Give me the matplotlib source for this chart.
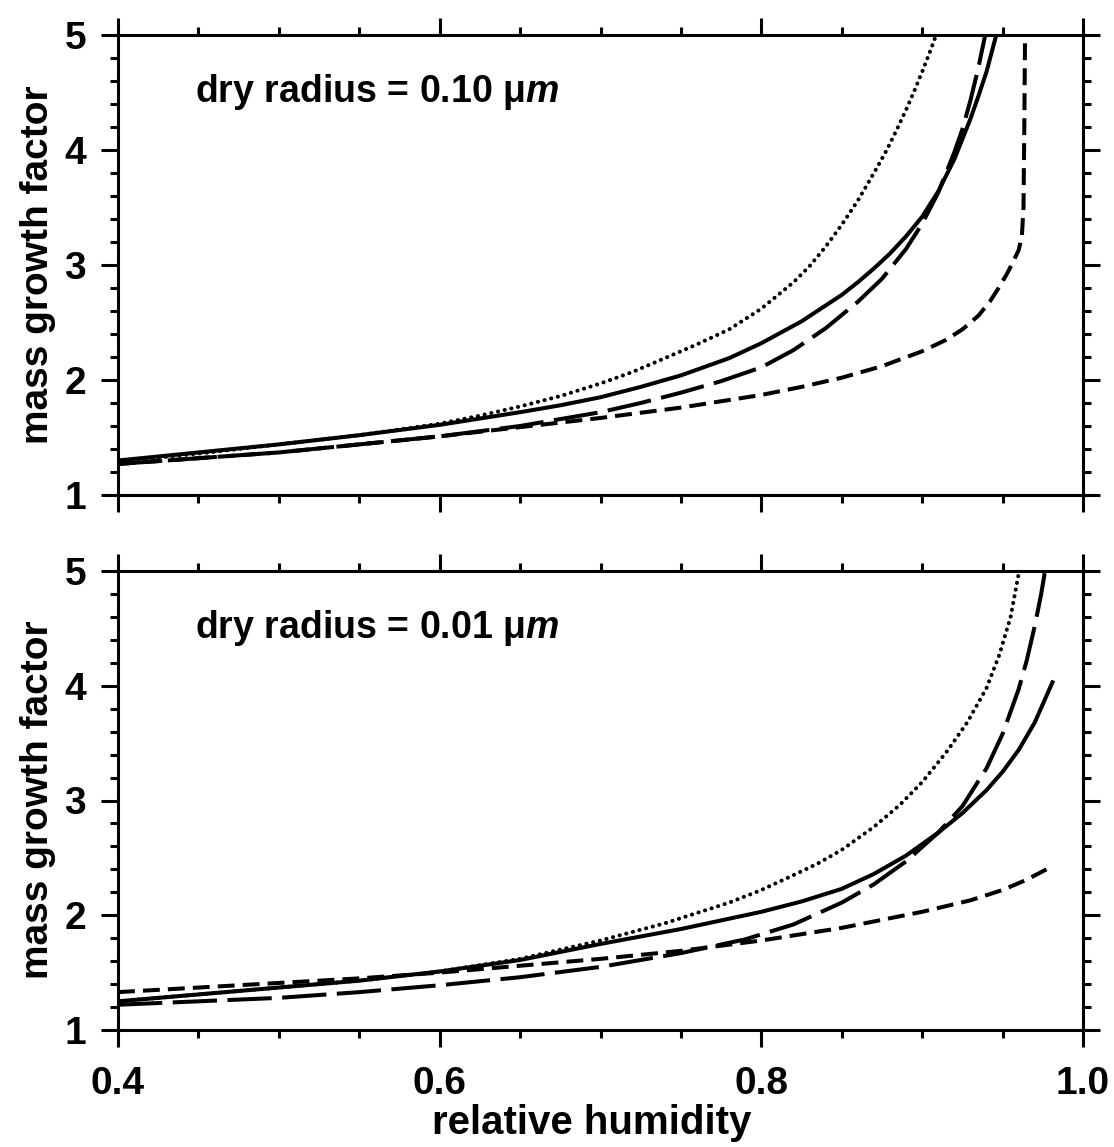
import matplotlib
matplotlib.use("Agg")
import matplotlib.pyplot as plt
from matplotlib.ticker import MultipleLocator, FixedLocator

plt.rcParams['font.family'] = ['Liberation Sans', 'DejaVu Sans']
plt.rcParams['font.weight'] = 'bold'
plt.rcParams['mathtext.fontset'] = 'custom'
plt.rcParams['mathtext.rm'] = 'Liberation Sans:bold'
plt.rcParams['mathtext.it'] = 'Liberation Sans:italic:bold'
plt.rcParams['mathtext.bf'] = 'Liberation Sans:bold'

# ---------------- data ----------------
# top panel: dry radius = 0.10 um
top_solid_rh = [0.40, 0.45, 0.50, 0.55, 0.60, 0.65, 0.675, 0.70, 0.725, 0.75, 0.78, 0.80, 0.825, 0.85, 0.86, 0.87, 0.88, 0.89, 0.90, 0.91, 0.92, 0.93, 0.935, 0.94, 0.947]
top_solid_g = [1.30, 1.37, 1.44, 1.52, 1.61, 1.72, 1.78, 1.85, 1.94, 2.04, 2.19, 2.32, 2.51, 2.74, 2.85, 2.97, 3.10, 3.25, 3.42, 3.64, 3.92, 4.27, 4.47, 4.68, 5.05]

top_dotted_rh = [0.40, 0.45, 0.50, 0.55, 0.60, 0.625, 0.65, 0.675, 0.70, 0.72, 0.74, 0.76, 0.78, 0.80, 0.82, 0.83, 0.84, 0.85, 0.86, 0.87, 0.878, 0.885, 0.89, 0.895, 0.90, 0.905, 0.91]
top_dotted_g = [1.29, 1.36, 1.44, 1.52, 1.62, 1.69, 1.77, 1.86, 1.97, 2.07, 2.19, 2.31, 2.44, 2.62, 2.85, 2.99, 3.16, 3.35, 3.56, 3.80, 4.00, 4.20, 4.35, 4.51, 4.68, 4.86, 5.05]

top_longdash_rh = [0.40, 0.45, 0.50, 0.55, 0.60, 0.65, 0.70, 0.725, 0.75, 0.775, 0.80, 0.82, 0.84, 0.86, 0.875, 0.89, 0.90, 0.91, 0.92, 0.925, 0.93, 0.935, 0.938, 0.940]
top_longdash_g = [1.27, 1.32, 1.37, 1.44, 1.51, 1.60, 1.72, 1.80, 1.89, 1.99, 2.11, 2.26, 2.45, 2.68, 2.88, 3.14, 3.36, 3.63, 3.98, 4.18, 4.43, 4.72, 4.92, 5.05]

top_shortdash_rh = [0.40, 0.45, 0.50, 0.55, 0.60, 0.65, 0.70, 0.75, 0.80, 0.825, 0.85, 0.875, 0.90, 0.915, 0.925, 0.935, 0.942, 0.948, 0.953, 0.957, 0.960, 0.962, 0.963, 0.9635, 0.964]
top_shortdash_g = [1.27, 1.32, 1.37, 1.44, 1.51, 1.59, 1.67, 1.76, 1.87, 1.94, 2.02, 2.12, 2.25, 2.35, 2.44, 2.56, 2.68, 2.81, 2.93, 3.04, 3.13, 3.25, 3.50, 4.20, 5.05]

# bottom panel: dry radius = 0.01 um
bot_solid_rh = [0.40, 0.45, 0.50, 0.55, 0.60, 0.65, 0.70, 0.75, 0.80, 0.825, 0.85, 0.87, 0.89, 0.91, 0.925, 0.94, 0.95, 0.96, 0.97, 0.981]
bot_solid_g = [1.25, 1.31, 1.37, 1.43, 1.51, 1.61, 1.75, 1.88, 2.03, 2.12, 2.23, 2.36, 2.52, 2.72, 2.89, 3.09, 3.25, 3.44, 3.68, 4.03]

bot_dotted_rh = [0.40, 0.45, 0.50, 0.55, 0.60, 0.65, 0.70, 0.74, 0.78, 0.80, 0.82, 0.835, 0.85, 0.87, 0.886, 0.90, 0.915, 0.928, 0.94, 0.948, 0.955, 0.961]
bot_dotted_g = [1.25, 1.31, 1.37, 1.43, 1.51, 1.62, 1.78, 1.93, 2.11, 2.22, 2.35, 2.45, 2.57, 2.77, 2.96, 3.16, 3.42, 3.68, 3.98, 4.27, 4.60, 5.05]

bot_longdash_rh = [0.40, 0.45, 0.50, 0.55, 0.60, 0.65, 0.70, 0.75, 0.79, 0.82, 0.85, 0.87, 0.89, 0.91, 0.925, 0.94, 0.95, 0.96, 0.965, 0.970, 0.974, 0.977]
bot_longdash_g = [1.22, 1.25, 1.28, 1.33, 1.39, 1.46, 1.55, 1.67, 1.79, 1.92, 2.11, 2.27, 2.47, 2.72, 2.95, 3.28, 3.58, 3.97, 4.22, 4.52, 4.80, 5.05]

bot_shortdash_rh = [0.40, 0.45, 0.50, 0.55, 0.60, 0.65, 0.70, 0.75, 0.80, 0.85, 0.90, 0.93, 0.95, 0.965, 0.98]
bot_shortdash_g = [1.33, 1.37, 1.41, 1.45, 1.50, 1.56, 1.62, 1.69, 1.78, 1.89, 2.03, 2.13, 2.22, 2.31, 2.42]

panel_labels = ["dry radius = 0.10 \u03bc$m$", "dry radius = 0.01 \u03bc$m$"]
x_ticks = [0.4, 0.6, 0.8, 1.0]
x_ticklabels = ["0.4", "0.6", "0.8", "1.0"]
y_ticks = [1, 2, 3, 4, 5]
x_label = "relative humidity"
y_label = "mass growth factor"

# ---------------- figure ----------------
W, H = 1114, 1147
fig = plt.figure(figsize=(W / 100, H / 100), dpi=100)

left = 118 / W
width = (1083 - 118) / W
ax_top = fig.add_axes([left, 1 - 495 / H, width, (495 - 35) / H])
ax_bot = fig.add_axes([left, 1 - 1030 / H, width, (1030 - 571) / H])

LW = 2.9
styles = {
    'solid': dict(linestyle='-', linewidth=LW),
    'dotted': dict(linestyle=(0, (0.05, 1.65)), linewidth=2.9, dash_capstyle='round'),
    'longdash': dict(linestyle=(0, (11, 2.6)), linewidth=LW),
    'shortdash': dict(linestyle=(0, (4.2, 2.0)), linewidth=LW),
}

def draw(ax, series, label):
    for (rh, g, key) in series:
        ax.plot(rh, g, color='black', solid_joinstyle='round', **styles[key])
    ax.set_xlim(0.4, 1.0)
    ax.set_ylim(1, 5)
    ax.xaxis.set_major_locator(FixedLocator(x_ticks))
    ax.xaxis.set_minor_locator(MultipleLocator(0.05))
    ax.yaxis.set_major_locator(FixedLocator(y_ticks))
    ax.yaxis.set_minor_locator(MultipleLocator(0.2))
    ax.tick_params(which='both', direction='out', top=True, right=True,
                   labeltop=False, labelright=False, width=2.2, color='black')
    ax.tick_params(which='major', length=12, labelsize=28, pad=11)
    ax.tick_params(which='minor', length=5.5)
    for s in ax.spines.values():
        s.set_linewidth(2.2)
    ax.text(0.08, 0.875, label, transform=ax.transAxes, fontsize=27,
            fontweight='bold', ha='left', va='center')
    ax.set_yticks(y_ticks)
    ax.set_yticklabels([str(v) for v in y_ticks], fontweight='bold')

draw(ax_top, [(top_solid_rh, top_solid_g, 'solid'),
              (top_dotted_rh, top_dotted_g, 'dotted'),
              (top_longdash_rh, top_longdash_g, 'longdash'),
              (top_shortdash_rh, top_shortdash_g, 'shortdash')], panel_labels[0])
ax_top.tick_params(axis='x', labelbottom=False)

draw(ax_bot, [(bot_solid_rh, bot_solid_g, 'solid'),
              (bot_dotted_rh, bot_dotted_g, 'dotted'),
              (bot_longdash_rh, bot_longdash_g, 'longdash'),
              (bot_shortdash_rh, bot_shortdash_g, 'shortdash')], panel_labels[1])
ax_bot.set_xticks(x_ticks)
ax_bot.set_xticklabels(x_ticklabels, fontweight='bold')
ax_bot.tick_params(axis='x', which='major', pad=14)

fig.text(38 / W, 1 - 265 / H, y_label, rotation=90, ha='center', va='center',
         fontsize=28, fontweight='bold')
fig.text(38 / W, 1 - 800 / H, y_label, rotation=90, ha='center', va='center',
         fontsize=28, fontweight='bold')
fig.text(592 / W, 1 - 1123 / H, x_label, ha='center', va='center',
         fontsize=29, fontweight='bold')

fig.savefig("out.png", dpi=100)
